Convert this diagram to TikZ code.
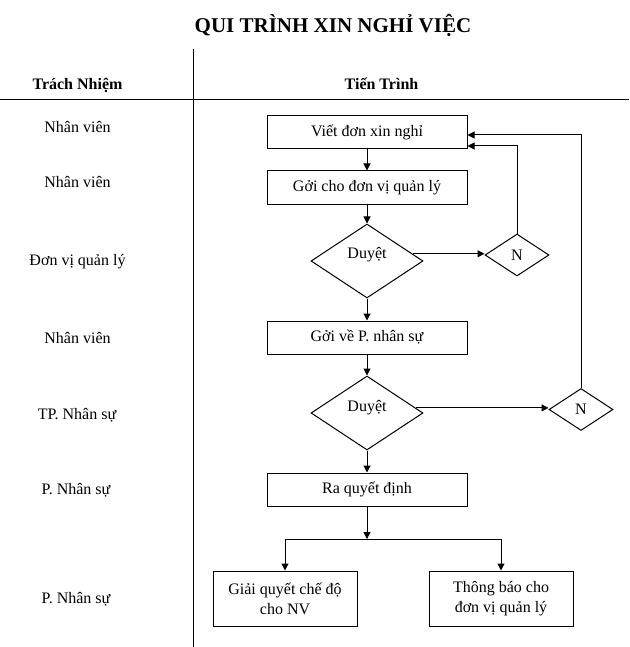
\documentclass[tikz,border=0pt]{standalone}
\usepackage{fontspec}
\setmainfont{Liberation Serif}
\usetikzlibrary{arrows.meta,calc,shapes.geometric}
\tikzset{
	stepbox/.style={draw, line width=1pt, minimum width=200pt, minimum height=33pt, inner sep=2pt, align=center},
	endbox/.style={draw, line width=1pt, minimum width=144pt, minimum height=55pt, inner sep=2pt, align=center, execute at begin node=\setlength{\baselineskip}{20pt}},
	checkdia/.style={draw, diamond, line width=1pt, minimum width=112pt, minimum height=74pt, inner sep=0pt},
	nodia/.style={draw, diamond, line width=1pt, minimum width=64pt, minimum height=42pt, inner sep=0pt},
	role/.style={anchor=base},
	head/.style={anchor=base, font=\bfseries\fontsize{16}{19}\selectfont},
}

\begin{document}
\begin{tikzpicture}[x=1pt, y=-1pt, line width=1pt, >={Triangle[length=7pt,width=7pt]}, font=\fontsize{16}{19}\selectfont]
			%%%%% START %%%%%
			\useasboundingbox (0, 0) rectangle (629, 647);
			
			\node[anchor=base, font=\bfseries\fontsize{21}{25}\selectfont] (title) at (333, 33) {QUI TRÌNH XIN NGHỈ VIỆC};
			\node[head] (hrole) at (77.5, 90) {Trách Nhiệm};
			\node[head] (hflow) at (381.5, 90) {Tiến Trình};
			\draw (0, 100) -- (629, 100);
			\draw (193, 49) -- (193, 647);
			
			\node[role] (l1) at (77.5, 133) {Nhân viên};
			\node[role] (l2) at (77.5, 187) {Nhân viên};
			\node[role] (l3) at (77.5, 265) {Đơn vị quản lý};
			\node[role] (l4) at (77.5, 343) {Nhân viên};
			\node[role] (l5) at (77, 419) {TP. Nhân sự};
			\node[role] (l6) at (76, 494) {P. Nhân sự};
			\node[role] (l7) at (76, 603) {P. Nhân sự};
			
			\node[stepbox] (b1) at (367, 132.5) {Viết đơn xin nghỉ};
			\node[stepbox] (b2) at (367, 187.5) {Gởi cho đơn vị quản lý};
			\node[checkdia, label={[yshift=6pt]center:Duyệt}] (d1) at (367, 261) {};
			\node[nodia] (n1) at (517, 255) {N};
			\node[stepbox] (b3) at (367, 337.5) {Gởi về P. nhân sự};
			\node[checkdia, label={[yshift=5pt]center:Duyệt}] (d2) at (367, 413) {};
			\node[nodia] (n2) at (581, 409.5) {N};
			\node[stepbox] (b4) at (367, 489.5) {Ra quyết định};
			\coordinate (j) at (367, 539);
			\node[endbox] (b5) at (285, 598.5) {Giải quyết chế độ\\cho NV};
			\node[endbox] (b6) at (501, 598.5) {Thông báo cho\\đơn vị quản lý};
			
			\draw[->] (b1) -- (b2);
			\draw[->] (b2) -- (d1);
			\draw[->] (d1.9) -- (d1.9 -| n1.west);
			\draw[->] (n1.north) |- ($(b1.east)+(0, 13.5)$);
			\draw[->] (d1) -- (b3);
			\draw[->] (b3) -- (d2);
			\draw[->] (d2.6) -- (d2.6 -| n2.west);
			\draw[->] (n2.north) |- ($(b1.east)+(0, 2.5)$);
			\draw[->] (d2) -- (b4);
			\draw[->] (b4) -- (j);
			\draw[->] (j) -| (b5.north);
			\draw[->] (j) -| (b6.north);
			
			%%%%% END %%%%%
		\end{tikzpicture}
\end{document}
